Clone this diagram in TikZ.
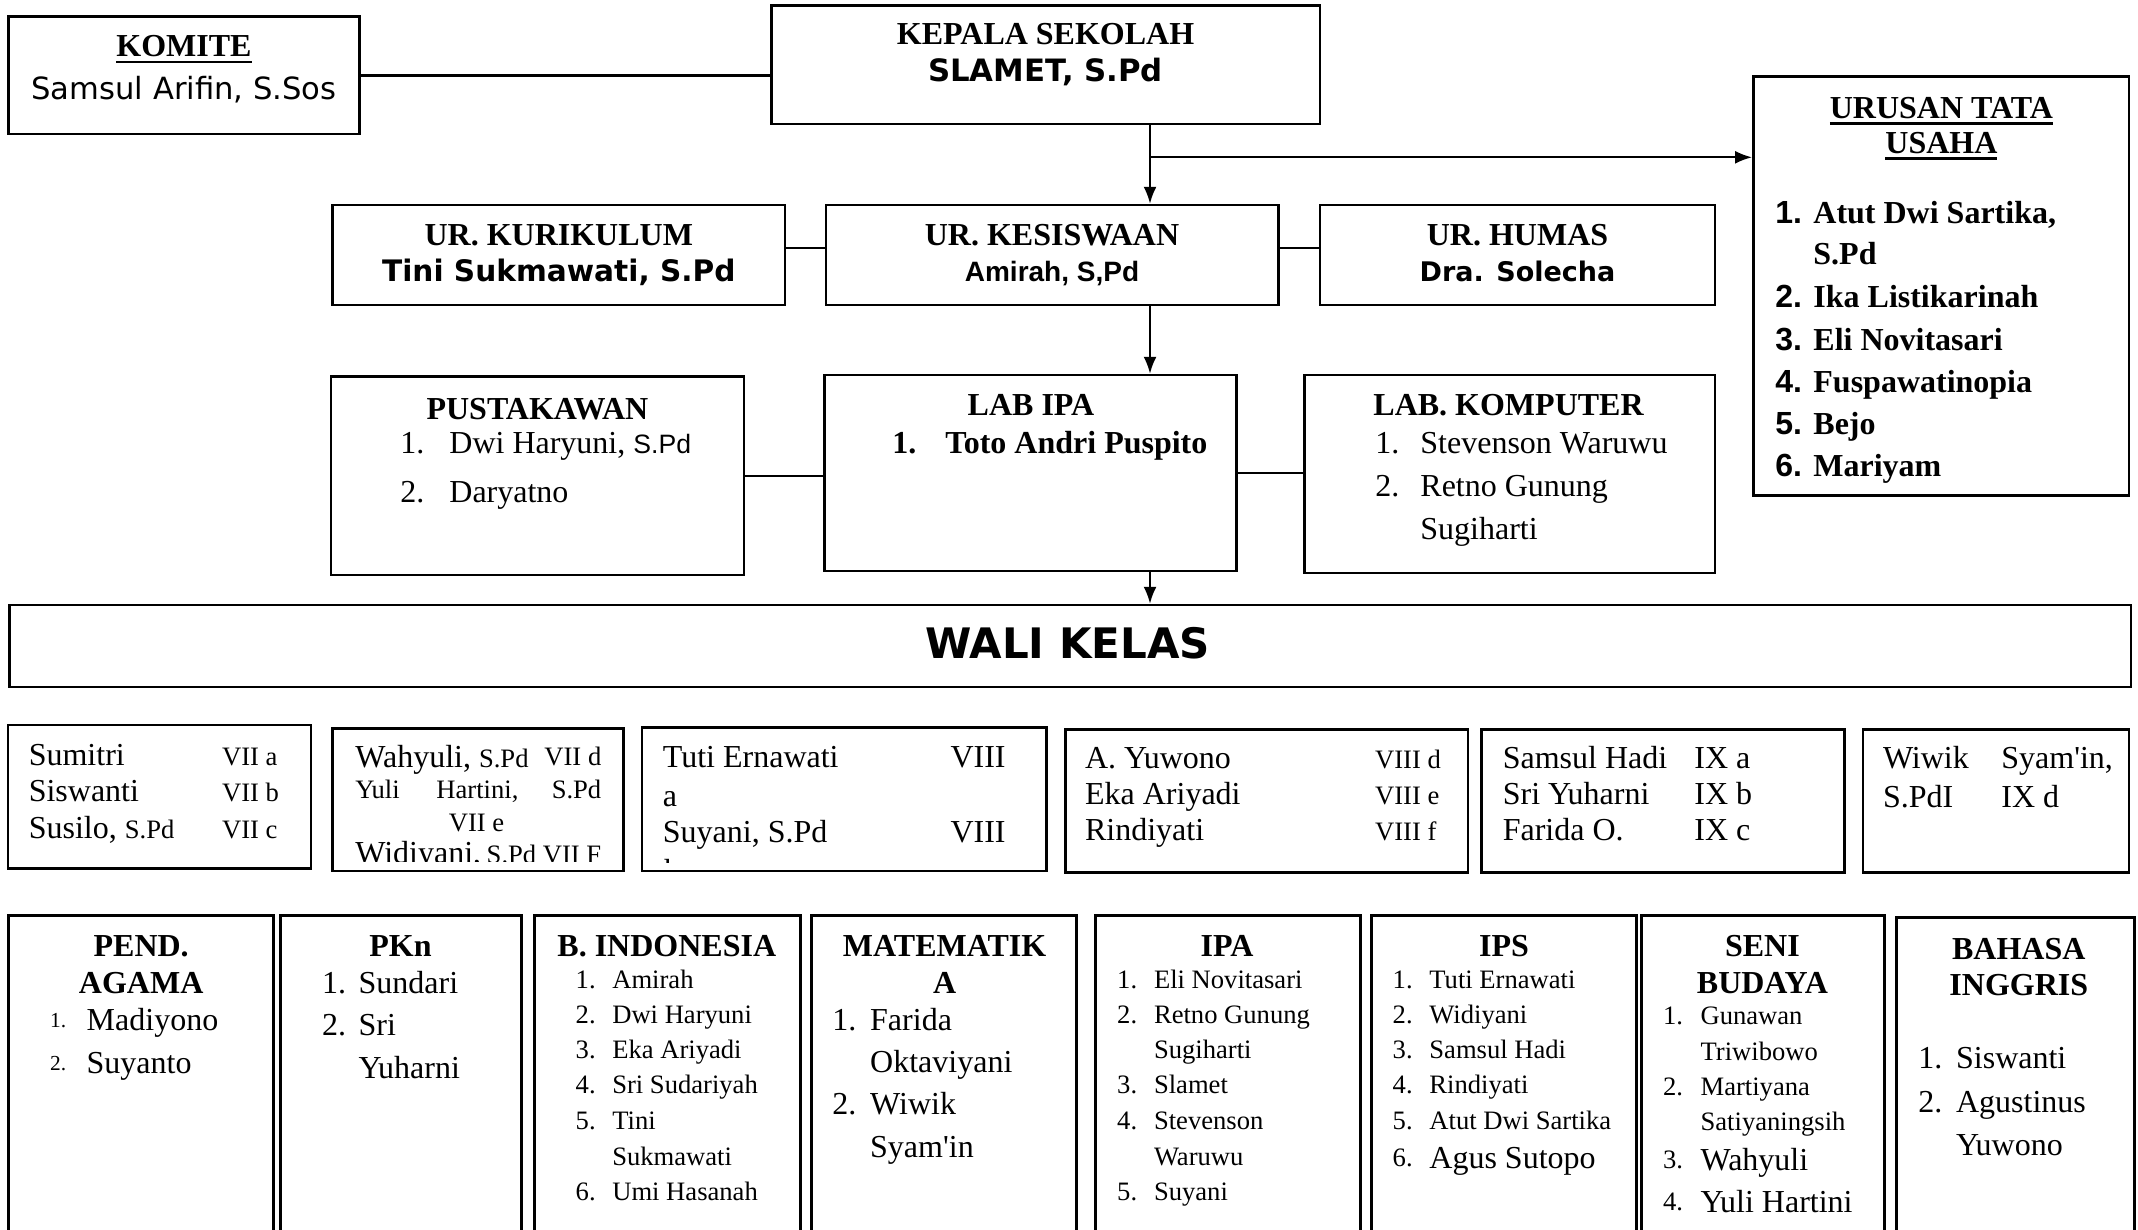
\documentclass[tikz,border=0pt]{standalone}
\usepackage{fontspec}
\setmainfont{Liberation Serif}
\newfontfamily\heavy{DejaVu Sans}
\newfontfamily\lsans{Liberation Sans}
\newfontfamily\comic{DejaVu Sans}
\usetikzlibrary{fit,arrows.meta}
\newcommand\fA{\fontsize{16}{19}\selectfont}
\newcommand\fB{\fontsize{13.3}{16}\selectfont}
\newcommand\fS{\fontsize{10.7}{13}\selectfont}
\newcommand\ulx[1]{\setbox0=\hbox{#1}\rlap{\copy0}\rule[-3pt]{\wd0}{1.2pt}}
\newcounter{tn}
\newcommand\T[3][]{\stepcounter{tn}\edef\tnm{t\arabic{tn}}\node[txt,#1] (\tnm) at (#2) {#3};}
\begin{document}
\begin{tikzpicture}[x=0.5pt,y=-0.5pt,
  box/.style={draw, line width=1.2pt, inner sep=0pt},
  sbox/.style={draw, line width=1.5pt, inner sep=0pt},
  txt/.style={inner sep=0pt, anchor=mid west, font=\fA, yshift=-3pt},
  sm/.style={font=\fB, yshift=1pt},
  conn/.style={line width=1.1pt},
  arr/.style={line width=1.1pt, -{Latex[length=8.5pt,width=6.5pt]}}]
\useasboundingbox (0,0) rectangle (2138,1230);
\clip (0,0) rectangle (2138,1230);
\fill[white] (0,0) rectangle (2138,1230);
% ---------- boxes
\node[box,fit={(8.3,16.7) (359.5,134.3)}] (komite) {};
\node[box,fit={(771.3,5.7) (1319.9,124)}] (kepala) {};
\node[box,fit={(1753.3,76.7) (2129,495.5)}] (tu) {};
\node[box,fit={(332.6,205) (785,305)}] (kurikulum) {};
\node[box,fit={(825.8,205) (1278.6,305)}] (kesiswaan) {};
\node[box,fit={(1319.9,205) (1715.2,305)}] (humas) {};
\node[box,fit={(330.9,376.7) (743.8,575)}] (pustaka) {};
\node[box,fit={(824.4,375) (1236.5,570.7)}] (labipa) {};
\node[box,fit={(1304.4,375) (1714.7,572.7)}] (labkom) {};
\node[box,fit={(9.5,605) (2131,687)}] (wali) {};
\node[box,fit={(8.1,725) (311,868.3)}] (wk1) {};
\node[box,fit={(332.6,728.3) (623.3,871)}] (wk2) {};
\node[box,fit={(642.2,727.3) (1046.5,871)}] (wk3) {};
\node[box,fit={(1065.3,729.3) (1467.7,872.3)}] (wk4) {};
\node[box,fit={(1481.6,729.3) (1844.5,872.3)}] (wk5) {};
\node[box,fit={(1863.2,729.3) (2129,872.3)}] (wk6) {};
\node[sbox,fit={(8.9,915) (273,1250)}] (agama) {};
\node[sbox,fit={(280.8,915) (521.4,1250)}] (pkn) {};
\node[sbox,fit={(534.5,915) (800,1250)}] (bind) {};
\node[sbox,fit={(811.5,915) (1076.9,1250)}] (mtk) {};
\node[sbox,fit={(1095.3,915) (1360.2,1250)}] (ipa) {};
\node[sbox,fit={(1371.7,915) (1636.3,1250)}] (ips) {};
\node[sbox,fit={(1641.6,915) (1884.5,1250)}] (seni) {};
\node[sbox,fit={(1896.7,917) (2134,1250)}] (bing) {};
% ---------- connectors
\coordinate (spx) at (1150,0);
\coordinate (brn) at (1150,157.3);
\draw[conn] (komite.east) -- (komite.east -| kepala.west);
\draw[arr] (kepala.south -| spx) -- (kesiswaan.north -| spx);
\draw[arr] (brn) -- (brn -| tu.west);
\draw[conn] ([yshift=3.5pt]kurikulum.east) -- ([yshift=3.5pt]kesiswaan.west);
\draw[conn] ([yshift=3.5pt]kesiswaan.east) -- ([yshift=3.5pt]humas.west);
\draw[arr] (kesiswaan.south -| spx) -- (labipa.north -| spx);
\draw[conn] (pustaka.east) -- (pustaka.east -| labipa.west);
\draw[conn] (labipa.east) -- (labipa.east -| labkom.west);
\draw[arr] (labipa.south -| spx) -- (wali.north -| spx);
% ---------- top texts
\T[anchor=mid]{184,46.4}{\bfseries\ulx{KOMITE}}
\T[anchor=mid,font=\comic\fontsize{15.3}{18}\selectfont]{184,88.6}{Samsul Arifin, S.Sos}
\T[anchor=mid]{1045.6,34}{\bfseries KEPALA SEKOLAH}
\T[anchor=mid,font=\heavy\bfseries\fontsize{15.4}{18}\selectfont]{1045.6,71}{SLAMET, S.Pd}
\T[anchor=mid]{558.8,234.5}{\bfseries UR. KURIKULUM}
\T[anchor=mid,font=\heavy\bfseries\fontsize{14.8}{18}\selectfont]{558.8,271.3}{Tini Sukmawati, S.Pd}
\T[anchor=mid]{1052,234.5}{\bfseries UR. KESISWAAN}
\T[anchor=mid,font=\lsans\bfseries\fontsize{14}{18}\selectfont]{1052,271.3}{Amirah, S,Pd}
\T[anchor=mid]{1517.5,234.5}{\bfseries UR. HUMAS}
\T[anchor=mid,font=\heavy\bfseries\fontsize{13.5}{18}\selectfont]{1517.5,271.3}{Dra. Solecha}
% TU
\T[anchor=mid]{1941.4,108}{\bfseries\ulx{URUSAN TATA}}
\T[anchor=mid]{1941.4,143}{\bfseries\ulx{USAHA}}
\T{1775,213}{\lsans\bfseries 1.}\T{1813,213}{\bfseries Atut Dwi Sartika,}
\T{1813,254}{\bfseries S.Pd}
\T{1775,297}{\lsans\bfseries 2.}\T{1813,297}{\bfseries Ika Listikarinah}
\T{1775,339.5}{\lsans\bfseries 3.}\T{1813,339.5}{\bfseries Eli Novitasari}
\T{1775,381.8}{\lsans\bfseries 4.}\T{1813,381.8}{\bfseries Fuspawatinopia}
\T{1775,424}{\lsans\bfseries 5.}\T{1813,424}{\bfseries Bejo}
\T{1775,466}{\lsans\bfseries 6.}\T{1813,466}{\bfseries Mariyam}
% pustakawan
\T[anchor=mid]{537.4,409.3}{\bfseries PUSTAKAWAN}
\T{400,443.3}{1.}\T{449,443.3}{Dwi Haryuni, {\lsans\fB S.Pd}}
\T{400,492.3}{2.}\T{449,492.3}{Daryatno}
% lab ipa
\T[anchor=mid]{1031,405}{\bfseries LAB IPA}
\T{892,443}{\bfseries 1.}\T{945,443}{\bfseries Toto Andri Puspito}
% lab komputer
\T{1373,405}{\bfseries LAB. KOMPUTER}
\T{1375,443}{1.}\T{1420,443}{Stevenson Waruwu}
\T{1375,486}{2.}\T{1420,486}{Retno Gunung}
\T{1420,529}{Sugiharti}
% wali kelas
\T[anchor=mid,font=\heavy\bfseries\fontsize{21}{24}\selectfont]{1067.6,648}{WALI KELAS}
% wk1
\T{28.4,754.7}{Sumitri}\T[sm]{221.7,756.7}{VII a}
\T{28.4,790.7}{Siswanti}\T[sm]{221.7,792.7}{VII b}
\T{28.4,828}{Susilo, {\fB S.Pd}}\T[sm]{221.7,830}{VII c}
% wk2
\T{355,757}{Wahyuli, {\fB S.Pd}}\T[anchor=mid east,sm]{601.7,757}{VII d}
\T[sm]{355,790}{Yuli}\T[sm]{436,790}{Hartini,}\T[anchor=mid east,sm]{601.7,790}{S.Pd}
\T[anchor=mid,sm]{476.6,823}{VII e}
\begin{scope}
\clip (332.6,728.3) rectangle (623.3,861);
\T{355,853}{Widiyani,}\T[anchor=mid east,sm]{601.7,855}{S.Pd VII F}
\end{scope}
% wk3
\T{662.5,757}{Tuti Ernawati}\T[anchor=mid east]{1006,757}{VIII}
\T{662.5,796}{a}
\T{662.5,831.7}{Suyani, S.Pd}\T[anchor=mid east]{1006,831.7}{VIII}
\begin{scope}
\clip (642.2,727.3) rectangle (1046.5,862);
\T{664,871}{b}
\end{scope}
% wk4
\T{1084.7,758}{A. Yuwono}\T[sm]{1374.7,760}{VIII d}
\T{1084.7,794}{Eka Ariyadi}\T[sm]{1374.7,796}{VIII e}
\T{1084.7,830}{Rindiyati}\T[sm]{1374.7,832}{VIII f}
% wk5
\T{1502.4,758}{Samsul Hadi}\T{1694,758}{IX a}
\T{1502.4,794}{Sri Yuharni}\T{1694,794}{IX b}
\T{1502.4,830}{Farida O.}\T{1694,830}{IX c}
% wk6
\T{1882.6,758}{Wiwik}\T{2001,758}{Syam\textquotesingle in,}
\T{1882.6,797}{S.PdI}\T{2001,797}{IX d}
% ---------- subject boxes
% agama
\T[anchor=mid]{141.2,946}{\bfseries PEND.}
\T[anchor=mid]{141.2,983.3}{\bfseries AGAMA}
\T[font=\fS,yshift=1.5pt]{49.7,1020}{1.}\T{86.3,1020}{Madiyono}
\T[font=\fS,yshift=1.5pt]{49.7,1063.3}{2.}\T{86.3,1063.3}{Suyanto}
% pkn
\T[anchor=mid]{400.5,946}{\bfseries PKn}
\T{321.6,982.7}{1.}\T{358.2,982.7}{Sundari}
\T{321.6,1025}{2.}\T{358.2,1025}{Sri}
\T{358.2,1068}{Yuharni}
% b indonesia
\T[anchor=mid]{666.8,946}{\bfseries B. INDONESIA}
\T[sm]{575.3,980}{1.}\T[sm]{611.9,980}{Amirah}
\T[sm]{575.3,1015}{2.}\T[sm]{611.9,1015}{Dwi Haryuni}
\T[sm]{575.3,1050}{3.}\T[sm]{611.9,1050}{Eka Ariyadi}
\T[sm]{575.3,1085}{4.}\T[sm]{611.9,1085}{Sri Sudariyah}
\T[sm]{575.3,1120.7}{5.}\T[sm]{611.9,1120.7}{Tini}
\T[sm]{611.9,1156.7}{Sukmawati}
\T[sm]{575.3,1191.7}{6.}\T[sm]{611.9,1191.7}{Umi Hasanah}
% matematika
\T[anchor=mid]{944.6,946}{\bfseries MATEMATIK}
\T[anchor=mid]{944.6,983.3}{\bfseries A}
\T{832,1020}{1.}\T{869.8,1020}{Farida}
\T{869.8,1061.7}{Oktaviyani}
\T{832,1104}{2.}\T{869.8,1104}{Wiwik}
\T{869.8,1146.7}{Syam\textquotesingle in}
% ipa
\T[anchor=mid]{1227,946}{\bfseries IPA}
\T[sm]{1116.8,980}{1.}\T[sm]{1153.6,980}{Eli Novitasari}
\T[sm]{1116.8,1015}{2.}\T[sm]{1153.6,1015}{Retno Gunung}
\T[sm]{1153.6,1050}{Sugiharti}
\T[sm]{1116.8,1085}{3.}\T[sm]{1153.6,1085}{Slamet}
\T[sm]{1116.8,1120.7}{4.}\T[sm]{1153.6,1120.7}{Stevenson}
\T[sm]{1153.6,1156.7}{Waruwu}
\T[sm]{1116.8,1191.7}{5.}\T[sm]{1153.6,1191.7}{Suyani}
% ips
\T[anchor=mid]{1504,946}{\bfseries IPS}
\T[sm]{1392.3,980}{1.}\T[sm]{1429,980}{Tuti Ernawati}
\T[sm]{1392.3,1015}{2.}\T[sm]{1429,1015}{Widiyani}
\T[sm]{1392.3,1050}{3.}\T[sm]{1429,1050}{Samsul Hadi}
\T[sm]{1392.3,1085}{4.}\T[sm]{1429,1085}{Rindiyati}
\T[sm]{1392.3,1120.7}{5.}\T[sm]{1429,1120.7}{Atut Dwi Sartika}
\T[sm]{1392.3,1158}{6.}\T{1429,1158}{Agus Sutopo}
% seni budaya
\T[anchor=mid]{1762.4,946}{\bfseries SENI}
\T[anchor=mid]{1762.4,983}{\bfseries BUDAYA}
\T[sm]{1662.7,1016}{1.}\T[sm]{1700.2,1016}{Gunawan}
\T[sm]{1700.2,1051.7}{Triwibowo}
\T[sm]{1662.7,1086.7}{2.}\T[sm]{1700.2,1086.7}{Martiyana}
\T[sm]{1700.2,1121.7}{Satiyaningsih}
\T[sm]{1662.7,1160}{3.}\T{1700.2,1160}{Wahyuli}
\T[sm]{1662.7,1201.7}{4.}\T{1700.2,1201.7}{Yuli Hartini}
% bahasa inggris
\T[anchor=mid]{2018.8,949.3}{\bfseries BAHASA}
\T[anchor=mid]{2018.8,985}{\bfseries INGGRIS}
\T{1918,1058.3}{1.}\T{1955.7,1058.3}{Siswanti}
\T{1918,1101.7}{2.}\T{1955.7,1101.7}{Agustinus}
\T{1955.7,1145}{Yuwono}
\end{tikzpicture}
\end{document}
